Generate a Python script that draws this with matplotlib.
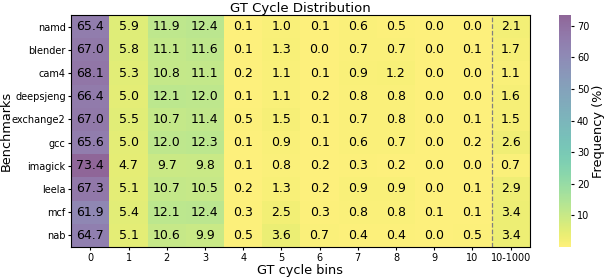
import matplotlib
matplotlib.use('Agg')
import matplotlib.pyplot as plt
import numpy as np

benchmarks = ['namd', 'blender', 'cam4', 'deepsjeng', 'exchange2', 'gcc',
              'imagick', 'leela', 'mcf', 'nab']
bins = ['0', '1', '2', '3', '4', '5', '6', '7', '8', '9', '10', '10-1000']

namd = [65.4, 5.9, 11.9, 12.4, 0.1, 1.0, 0.1, 0.6, 0.5, 0.0, 0.0, 2.1]
blender = [67.0, 5.8, 11.1, 11.6, 0.1, 1.3, 0.0, 0.7, 0.7, 0.0, 0.1, 1.7]
cam4 = [68.1, 5.3, 10.8, 11.1, 0.2, 1.1, 0.1, 0.9, 1.2, 0.0, 0.0, 1.1]
deepsjeng = [66.4, 5.0, 12.1, 12.0, 0.1, 1.1, 0.2, 0.8, 0.8, 0.0, 0.0, 1.6]
exchange2 = [67.0, 5.5, 10.7, 11.4, 0.5, 1.5, 0.1, 0.7, 0.8, 0.0, 0.1, 1.5]
gcc = [65.6, 5.0, 12.0, 12.3, 0.1, 0.9, 0.1, 0.6, 0.7, 0.0, 0.2, 2.6]
imagick = [73.4, 4.7, 9.7, 9.8, 0.1, 0.8, 0.2, 0.3, 0.2, 0.0, 0.0, 0.7]
leela = [67.3, 5.1, 10.7, 10.5, 0.2, 1.3, 0.2, 0.9, 0.9, 0.0, 0.1, 2.9]
mcf = [61.9, 5.4, 12.1, 12.4, 0.3, 2.5, 0.3, 0.8, 0.8, 0.1, 0.1, 3.4]
nab = [64.7, 5.1, 10.6, 9.9, 0.5, 3.6, 0.7, 0.4, 0.4, 0.0, 0.5, 3.4]

data = np.array([namd, blender, cam4, deepsjeng, exchange2, gcc,
                 imagick, leela, mcf, nab])

fig = plt.figure(figsize=(6.04, 2.8), dpi=100)
ax = fig.add_axes([0.118, 0.118, 0.759, 0.828])
cax = fig.add_axes([0.925, 0.118, 0.021, 0.828])

mesh = ax.pcolormesh(data, cmap='viridis_r', alpha=0.6,
                     vmin=data.min(), vmax=data.max())
ax.set_xlim(0, data.shape[1])
ax.set_ylim(data.shape[0], 0)

# annotate cells
for i in range(data.shape[0]):
    for j in range(data.shape[1]):
        ax.text(j + 0.5, i + 0.5, f'{data[i, j]:.1f}', ha='center',
                va='center', fontsize=9, color='black')

# separator before the wide bin
ax.axvline(len(bins) - 1, color='gray', linestyle='--', linewidth=0.9)

ax.set_xticks(np.arange(len(bins)) + 0.5)
ax.set_xticklabels(bins, fontsize=7)
ax.set_yticks(np.arange(len(benchmarks)) + 0.5)
ax.set_yticklabels(benchmarks, fontsize=7)
ax.tick_params(length=2.5, pad=1.5)
ax.set_xlabel('GT cycle bins', fontsize=9.3, labelpad=1)
ax.set_ylabel('Benchmarks', fontsize=9.3)
ax.yaxis.set_label_coords(-0.128, 0.5)
ax.set_title('GT Cycle Distribution', fontsize=9.5, pad=2)

cb = fig.colorbar(mesh, cax=cax)
cb.outline.set_linewidth(0)
cb.ax.tick_params(labelsize=7, length=2.5, pad=1.5)
cb.set_ticks([10, 20, 30, 40, 50, 60, 70])
cb.set_label('Frequency (%)', fontsize=9.3, labelpad=2)

fig.savefig('out.png', dpi=100)
